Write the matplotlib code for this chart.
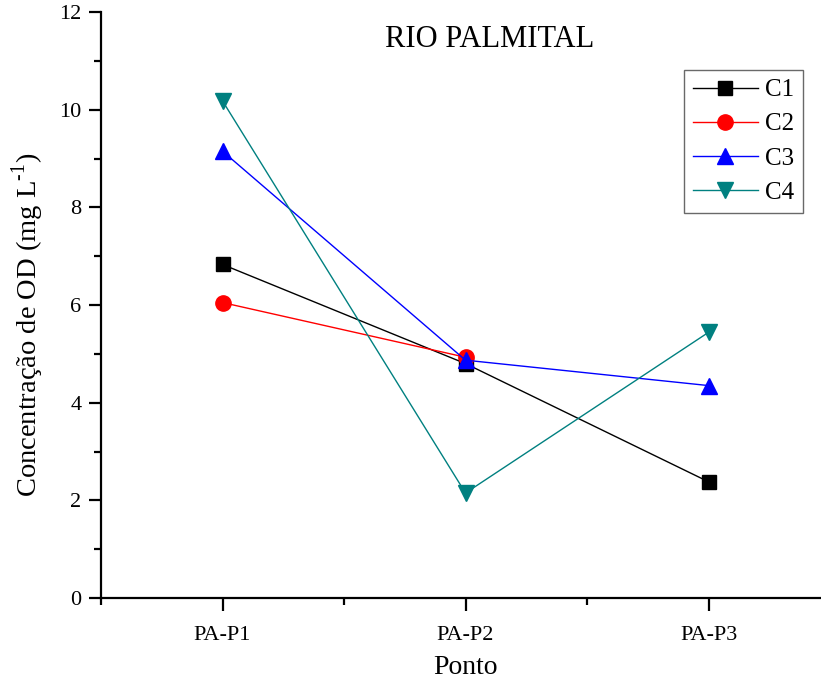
import matplotlib
matplotlib.use("Agg")
import matplotlib.pyplot as plt
from matplotlib.ticker import MultipleLocator

plt.rcParams['font.family'] = ['Liberation Serif', 'DejaVu Serif']
plt.rcParams['mathtext.fontset'] = 'custom'
plt.rcParams['mathtext.rm'] = 'Liberation Serif'

# Dados
pontos = ['PA-P1', 'PA-P2', 'PA-P3']
c1 = [6.83, 4.80, 2.38]
c2 = [6.05, 4.93]
c3 = [9.15, 4.87, 4.35]
c4 = [10.18, 2.15, 5.44]

x = [1, 2, 3]

fig = plt.figure(figsize=(8.21, 6.82), dpi=100)
ax = fig.add_axes([101/821, 84/682, 729/821, 586/682])

ax.plot(x, c1, color='black', lw=1, marker='s', ms=9.4, label='C1')
ax.plot(x[:2], c2, color='red', lw=1, marker='o', ms=11, label='C2')
ax.plot(x, c3, color='blue', lw=1, marker='^', ms=12, label='C3')
ax.plot(x, c4, color='#008080', lw=1, marker='v', ms=12, label='C4')

ax.set_xlim(0.5, 3.5)
ax.set_ylim(0, 12)
ax.set_xticks(x)
ax.set_xticklabels(pontos)
ax.set_xticks([0.5, 1.5, 2.5, 3.5], minor=True)
ax.yaxis.set_major_locator(MultipleLocator(2))
ax.yaxis.set_minor_locator(MultipleLocator(1))

for s in ['top', 'right']:
    ax.spines[s].set_visible(False)
for s in ['left', 'bottom']:
    ax.spines[s].set_linewidth(1.6)

ax.tick_params(which='major', direction='out', length=9, width=1.6, labelsize=16)
ax.tick_params(which='minor', direction='out', length=5, width=1.6)
ax.tick_params(axis='x', which='major', pad=11)
ax.tick_params(axis='y', which='major', pad=5)

ax.set_xlabel('Ponto', fontsize=20, labelpad=7)
ax.set_ylabel(r'Concentração de OD (mg L$^{\mathrm{\text{-}1}}$)', fontsize=20.5)
ax.yaxis.set_label_coords(-55/729, 0.466)

ax.text(2.10, 11.43, 'RIO PALMITAL', fontsize=22, ha='center', va='center')

leg = ax.legend(loc='upper left', bbox_to_anchor=(583/729, (598-70)/586),
                fontsize=18, frameon=True, fancybox=False, handlelength=2.6,
                borderpad=0.35, labelspacing=0.47, handletextpad=0.3,
                borderaxespad=0)
leg.get_frame().set_edgecolor('#444444')
leg.get_frame().set_linewidth(1.0)

fig.savefig('out.png', dpi=100)
